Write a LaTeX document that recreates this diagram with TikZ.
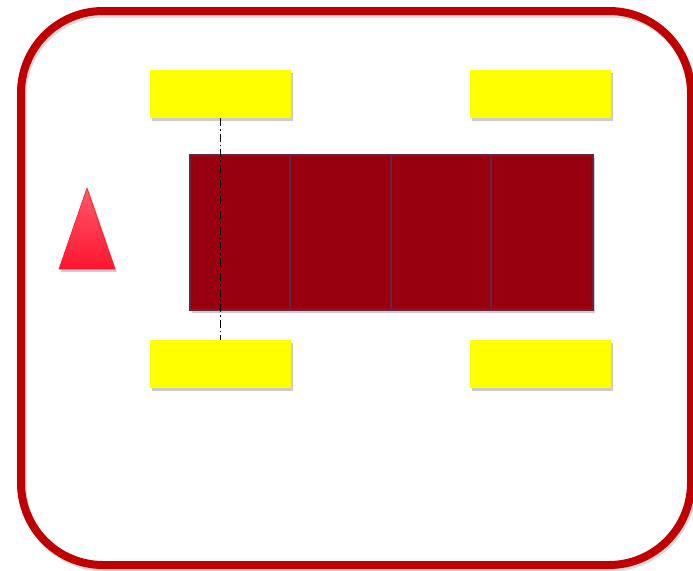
\documentclass[tikz,border=0pt]{standalone}
\usetikzlibrary{shadows}
\definecolor{frame}{HTML}{C00000}
\definecolor{wheel}{HTML}{FFFF00}
\definecolor{bodyred}{HTML}{99000F}
\definecolor{bodyline}{HTML}{6A2442}
\definecolor{triTop}{HTML}{FF5A68}
\definecolor{triBot}{HTML}{FF1430}
\tikzset{
  softshadow/.style={drop shadow={shadow xshift=1.5pt, shadow yshift=-3pt, opacity=0.2, fill=black}},
  wheelbox/.style={rectangle, fill=wheel, draw=none, minimum width=141pt, minimum height=48pt, inner sep=0pt, outer sep=0pt, softshadow},
  cellbox/.style={rectangle, fill=bodyred, draw=bodyline, line width=1.6pt, minimum height=155pt, inner sep=0pt, outer sep=0pt},
  axisline/.style={black, line width=1.8pt, dash pattern=on 8pt off 3pt on 1.5pt off 3pt},
}
\begin{document}
\begin{tikzpicture}[x=1pt, y=-1pt]
\useasboundingbox (0,0) rectangle (693,570);
% outer frame shadow and frame
\draw[black, opacity=0.15, line width=8pt, rounded corners=82pt] (22.5,13.5) rectangle (692.5,567.5);
\draw[frame, line width=8pt, rounded corners=82pt] (21,11) rectangle (691,565);
% wheels
\node[wheelbox] (wtl) at (220.5,94) {};
\node[wheelbox] (wtr) at (540.5,94) {};
\node[wheelbox] (wbl) at (220.5,363.5) {};
\node[wheelbox] (wbr) at (540.5,363.5) {};
% body shadow
\fill[black, opacity=0.2] (191.5,158) rectangle (594.5,313);
% body cells
\node[cellbox, minimum width=100pt] (c1) at (240,232.5) {};
\node[cellbox, minimum width=101pt] (c2) at (340.5,232.5) {};
\node[cellbox, minimum width=100pt] (c3) at (441,232.5) {};
\node[cellbox, minimum width=102pt] (c4) at (542,232.5) {};
% axis
\draw[axisline] (wtl.south) -- (wbl.north);
% triangle
\fill[black, opacity=0.2] (89,191) -- (117,272) -- (61,272) -- cycle;
\shade[top color=triTop, bottom color=triBot, draw=triBot, line width=0.6pt] (87,188) -- (115,269) -- (59,269) -- cycle;
\end{tikzpicture}
\end{document}
